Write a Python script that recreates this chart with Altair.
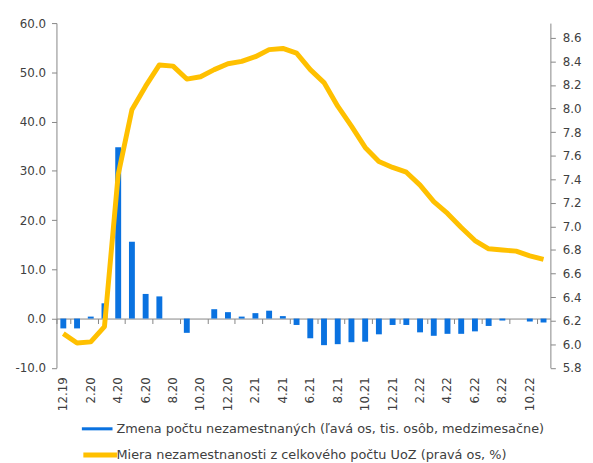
import altair as alt
import pandas as pd

months = ["12.19", "1.20", "2.20", "3.20", "4.20", "5.20", "6.20", "7.20", "8.20", "9.20",
          "10.20", "11.20", "12.20", "1.21", "2.21", "3.21", "4.21", "5.21", "6.21", "7.21",
          "8.21", "9.21", "10.21", "11.21", "12.21", "1.22", "2.22", "3.22", "4.22", "5.22",
          "6.22", "7.22", "8.22", "9.22", "10.22", "11.22"]
unemp_change = [-2.0, -2.0, 0.4, 3.1, 34.8, 15.6, 5.0, 4.5, 0.0, -2.9,
                0.0, 1.9, 1.3, 0.4, 1.1, 1.6, 0.5, -1.3, -4.0, -5.4,
                -5.2, -4.8, -4.7, -3.2, -1.3, -1.3, -2.8, -3.5, -3.1, -3.1,
                -2.6, -1.5, -0.4, 0.0, -0.6, -0.8]
unemp_rate = [6.09, 6.01, 6.02, 6.15, 7.44, 7.99, 8.19, 8.37, 8.36, 8.25,
              8.27, 8.33, 8.38, 8.40, 8.44, 8.50, 8.51, 8.47, 8.33, 8.22,
              8.02, 7.85, 7.67, 7.55, 7.50, 7.46, 7.35, 7.21, 7.11, 6.99,
              6.88, 6.81, 6.80, 6.79, 6.75, 6.72]
bar_label = "Zmena počtu nezamestnaných (ľavá os, tis. osôb, medzimesačne)"
line_label = "Miera nezamestnanosti z celkového počtu UoZ (pravá os, %)"
left_ticks = [-10, 0, 10, 20, 30, 40, 50, 60]
left_domain = [-10, 60]
right_ticks = [5.8, 6.0, 6.2, 6.4, 6.6, 6.8, 7.0, 7.2, 7.4, 7.6, 7.8, 8.0, 8.2, 8.4, 8.6]
right_domain = [5.8, 8.725]
x_tick_labels = months[::2]

df = pd.DataFrame({"month": months, "change": unemp_change, "rate": unemp_rate,
                   "s1": bar_label, "s2": line_label})

FONT = "DejaVu Sans"
AXIS_COLOR = "#868686"
TEXT_COLOR = "#404040"
BLUE = "#0A72E0"
GOLD = "#FFC000"

W = 499.5
H = 348.6
zero_offset = -H * (0 - left_domain[0]) / (left_domain[1] - left_domain[0])

x_labels_axis = alt.Axis(orient="bottom", values=x_tick_labels, labelAngle=270, domain=False,
                         ticks=False, tickSize=0, labelPadding=9, title=None, grid=False,
                         labelFont=FONT, labelFontSize=12, labelColor=TEXT_COLOR)
x_zero_axis = alt.Axis(orient="bottom", values=x_tick_labels, labels=False, domain=True,
                       domainColor=AXIS_COLOR, ticks=True, tickColor=AXIS_COLOR, tickSize=5,
                       tickBand="extent", tickExtra=False, offset=zero_offset, title=None,
                       grid=False)

left_label_expr = "datum.value < 0 ? '-' + format(-datum.value, '.1f') : format(datum.value, '.1f')"

bars = alt.Chart(df).mark_bar(width=alt.RelativeBandSize(0.43)).encode(
    x=alt.X("month:N", sort=months, scale=alt.Scale(paddingInner=0, paddingOuter=0),
            axis=x_labels_axis),
    y=alt.Y("change:Q", scale=alt.Scale(domain=left_domain, nice=False, zero=False),
            axis=alt.Axis(orient="left", values=left_ticks, labelExpr=left_label_expr,
                          title=None, grid=False,
                          domainColor=AXIS_COLOR, tickColor=AXIS_COLOR, tickSize=5,
                          labelPadding=6, labelFont=FONT, labelFontSize=12,
                          labelColor=TEXT_COLOR)),
    fill=alt.Fill("s1:N", scale=alt.Scale(domain=[bar_label], range=[BLUE]),
                  legend=alt.Legend(title=None, orient="none", legendX=25.7, legendY=394.8,
                                    padding=0, symbolType="M-1,-0.1H1V0.1H-1Z",
                                    symbolSize=961, symbolStrokeWidth=0, labelOffset=4,
                                    labelLimit=800, labelFont=FONT, labelFontSize=13,
                                    labelColor=TEXT_COLOR)),
)

line = alt.Chart(df).mark_line(strokeWidth=5, strokeJoin="round").encode(
    x=alt.X("month:N", sort=months, axis=x_zero_axis),
    y=alt.Y("rate:Q", scale=alt.Scale(domain=right_domain, nice=False, zero=False),
            axis=alt.Axis(orient="right", values=right_ticks, format=".1f", title=None, grid=False,
                          domainColor=AXIS_COLOR, tickColor=AXIS_COLOR, tickSize=5,
                          labelPadding=7, labelFont=FONT, labelFontSize=12,
                          labelColor=TEXT_COLOR)),
    stroke=alt.Stroke("s2:N", scale=alt.Scale(domain=[line_label], range=[GOLD]),
                      legend=alt.Legend(title=None, orient="none", legendX=24.7, legendY=417.3,
                                        padding=0, symbolType="stroke", symbolSize=1156,
                                        symbolStrokeWidth=5, labelOffset={"expr": "-3"},
                                        labelLimit=800, labelFont=FONT, labelFontSize=13,
                                        labelColor=TEXT_COLOR)),
)

chart = alt.layer(bars, line).resolve_scale(
    y="independent", fill="independent", stroke="independent"
).resolve_axis(x="independent", y="independent").properties(
    width=W, height=H,
    autosize=alt.AutoSizeParams(type="none"),
    padding={"left": 49, "top": 12.7, "right": 35, "bottom": 93.5},
).configure_view(stroke=None)

chart.save("out.html", embed_options={"renderer": "svg", "actions": False})
